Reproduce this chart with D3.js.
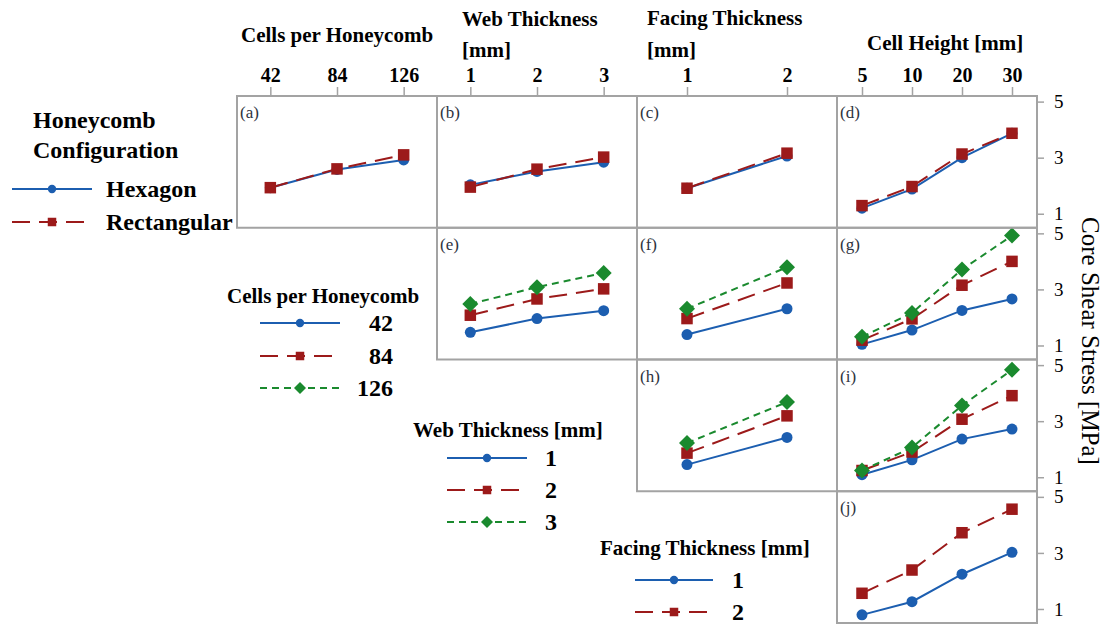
<!DOCTYPE html>
<html>
<head>
<meta charset="utf-8">
<script src="https://cdn.jsdelivr.net/npm/d3@7/dist/d3.min.js"></script>
<style>
  html, body { margin: 0; padding: 0; background: #fff; }
  svg { display: block; }
</style>
</head>
<body>
<svg id="chart" width="1108" height="624"></svg>
<script>
// ---------------- DATA ----------------
const cellsCats  = ["42", "84", "126"];
const webCats    = ["1", "2", "3"];
const facingCats = ["1", "2"];
const heightCats = ["5", "10", "20", "30"];
const yTickValues = [1, 3, 5];

const configNames = ["Hexagon", "Rectangular"];
const cellsNames  = ["42", "84", "126"];
const webNames    = ["1", "2", "3"];
const facingNames = ["1", "2"];

// Row 1: Honeycomb configuration (Hexagon, Rectangular)
const aHex  = [1.93, 2.58, 2.92];
const aRect = [1.93, 2.60, 3.10];
const bHex  = [2.03, 2.51, 2.84];
const bRect = [1.95, 2.59, 3.02];
const cHex  = [1.91, 3.06];
const cRect = [1.91, 3.16];
const dHex  = [1.20, 1.88, 3.00, 3.87];
const dRect = [1.29, 1.97, 3.13, 3.87];
// Row 2: Cells per honeycomb (42, 84, 126)
const e42  = [1.47, 1.96, 2.24];
const e84  = [2.08, 2.66, 3.02];
const e126 = [2.48, 3.08, 3.59];
const f42  = [1.39, 2.31];
const f84  = [1.96, 3.23];
const f126 = [2.31, 3.79];
const g42  = [1.04, 1.55, 2.25, 2.66];
const g84  = [1.19, 1.95, 3.15, 4.00];
const g126 = [1.31, 2.16, 3.71, 4.92];
// Row 3: Web thickness (1, 2, 3)
const hW1 = [1.45, 2.42];
const hW2 = [1.86, 3.19];
const hW3 = [2.22, 3.68];
const iW1 = [1.09, 1.62, 2.36, 2.72];
const iW2 = [1.24, 1.90, 3.07, 3.91];
const iW3 = [1.24, 2.06, 3.56, 4.83];
// Row 4: Facing thickness (1, 2)
const jF1 = [0.79, 1.26, 2.24, 3.02];
const jF2 = [1.56, 2.39, 3.72, 4.56];

// ---------------- LAYOUT / STYLE ----------------
const FONT = "'Liberation Serif', 'Times New Roman', serif";
const colX = [237, 437, 637, 837, 1037];
const rowY = [96, 227.75, 359.5, 491.25, 623];
const yDomain = [0.5, 5.2];
const frameColor = "#a3a3a3";

const styles = [
  { color: "#1c5eb0", dash: null,   marker: "circle"  },
  { color: "#9c1a1a", dash: "18,9", marker: "square"  },
  { color: "#1a8a2e", dash: "7,5",  marker: "diamond" }
];

const panels = [
  { label: "(a)", row: 0, col: 0, cats: cellsCats,  series: [aHex, aRect] },
  { label: "(b)", row: 0, col: 1, cats: webCats,    series: [bHex, bRect] },
  { label: "(c)", row: 0, col: 2, cats: facingCats, series: [cHex, cRect] },
  { label: "(d)", row: 0, col: 3, cats: heightCats, series: [dHex, dRect] },
  { label: "(e)", row: 1, col: 1, cats: webCats,    series: [e42, e84, e126] },
  { label: "(f)", row: 1, col: 2, cats: facingCats, series: [f42, f84, f126] },
  { label: "(g)", row: 1, col: 3, cats: heightCats, series: [g42, g84, g126] },
  { label: "(h)", row: 2, col: 2, cats: facingCats, series: [hW1, hW2, hW3] },
  { label: "(i)", row: 2, col: 3, cats: heightCats, series: [iW1, iW2, iW3] },
  { label: "(j)", row: 3, col: 3, cats: heightCats, series: [jF1, jF2] }
];

const svg = d3.select("#chart");

function xScale(col, cats) {
  return d3.scalePoint().domain(cats).range([colX[col], colX[col + 1]]).padding(0.5);
}
function yScale(row) {
  return d3.scaleLinear().domain(yDomain).range([rowY[row + 1], rowY[row]]);
}

function drawMarker(g, type, x, y, color, big) {
  if (type === "circle") {
    g.append("circle").attr("cx", x).attr("cy", y).attr("r", big ? 5.5 : 4.2).attr("fill", color);
  } else if (type === "square") {
    const s = big ? 11.5 : 8.5;
    g.append("rect").attr("x", x - s / 2).attr("y", y - s / 2).attr("width", s).attr("height", s).attr("fill", color);
  } else {
    const h = big ? 8 : 6;
    g.append("path")
      .attr("d", `M${x},${y - h}L${x + h},${y}L${x},${y + h}L${x - h},${y}Z`)
      .attr("fill", color);
  }
}

// ---------------- PANELS ----------------
panels.forEach(p => {
  const x = xScale(p.col, p.cats);
  const y = yScale(p.row);
  const g = svg.append("g");
  const line = d3.line().x((d, i) => x(p.cats[i])).y(d => y(d));
  p.series.forEach((vals, si) => {
    const st = styles[si];
    g.append("path")
      .attr("d", line(vals))
      .attr("fill", "none")
      .attr("stroke", st.color)
      .attr("stroke-width", 2)
      .attr("stroke-dasharray", st.dash);
    vals.forEach((v, i) => drawMarker(g, st.marker, x(p.cats[i]), y(v), st.color, true));
  });
  g.append("rect")
    .attr("x", colX[p.col]).attr("y", rowY[p.row])
    .attr("width", colX[p.col + 1] - colX[p.col])
    .attr("height", rowY[p.row + 1] - rowY[p.row])
    .attr("fill", "none").attr("stroke", frameColor).attr("stroke-width", 2);
  g.append("text")
    .attr("x", colX[p.col] + 3).attr("y", rowY[p.row] + 22)
    .attr("font-family", FONT).attr("font-size", 17).attr("fill", "#2e3340")
    .text(p.label);
});

// ---------------- TOP AXES ----------------
panels.filter(p => p.row === 0).forEach(p => {
  const x = xScale(p.col, p.cats);
  const ax = svg.append("g").attr("transform", `translate(0,${rowY[0]})`)
    .call(d3.axisTop(x).tickSize(9).tickPadding(5));
  ax.select(".domain").remove();
  ax.selectAll(".tick line").attr("stroke", frameColor).attr("stroke-width", 1.5);
  ax.selectAll(".tick text").attr("font-family", FONT).attr("font-size", 20)
    .attr("font-weight", "bold").attr("fill", "#000");
});

// ---------------- RIGHT AXES ----------------
for (let r = 0; r < 4; r++) {
  const y = yScale(r);
  const ax = svg.append("g").attr("transform", `translate(${colX[4]},0)`)
    .call(d3.axisRight(y).tickValues(yTickValues).tickSize(7).tickPadding(10).tickFormat(d3.format("d")));
  ax.select(".domain").remove();
  ax.selectAll(".tick line").attr("stroke", frameColor).attr("stroke-width", 1.5);
  ax.selectAll(".tick text").attr("font-family", FONT).attr("font-size", 19).attr("fill", "#000");
}

// ---------------- HEADERS ----------------
function txt(x, y, s, size, weight, anchor) {
  return svg.append("text").attr("x", x).attr("y", y)
    .attr("font-family", FONT).attr("font-size", size)
    .attr("font-weight", weight || "normal").attr("fill", "#000")
    .attr("text-anchor", anchor || "start").text(s);
}
txt(241, 42, "Cells per Honeycomb", 21, "bold");
txt(462, 26, "Web Thickness", 21, "bold");
txt(462, 57, "[mm]", 21, "bold");
txt(647, 25, "Facing Thickness", 21, "bold");
txt(647, 57, "[mm]", 21, "bold");
txt(867, 50, "Cell Height [mm]", 21, "bold");

svg.append("text")
  .attr("transform", "translate(1082,341) rotate(90)")
  .attr("text-anchor", "middle")
  .attr("font-family", FONT).attr("font-size", 25).attr("fill", "#000")
  .text("Core Shear Stress [MPa]");

// ---------------- LEGENDS ----------------
function legend(opts) {
  const g = svg.append("g");
  opts.titles.forEach((t, i) =>
    txt(opts.tx, opts.ty[i], t, opts.tsize, "bold"));
  opts.names.forEach((n, i) => {
    const st = styles[i];
    const yy = opts.iy[i];
    g.append("line").attr("x1", opts.lx0).attr("x2", opts.lx1)
      .attr("y1", yy).attr("y2", yy)
      .attr("stroke", st.color).attr("stroke-width", 2)
      .attr("stroke-dasharray", st.dash);
    drawMarker(g, st.marker, (opts.lx0 + opts.lx1) / 2, yy, st.color, false);
    txt(opts.textX, yy + 8, n, 24, "bold", opts.anchor);
  });
}
legend({ titles: ["Honeycomb", "Configuration"], tx: 33, ty: [128, 158], tsize: 24,
  names: configNames, iy: [189, 222], lx0: 12, lx1: 92, textX: 106, anchor: "start" });
legend({ titles: ["Cells per Honeycomb"], tx: 227, ty: [303], tsize: 21,
  names: cellsNames, iy: [323, 356, 388], lx0: 260, lx1: 340, textX: 393, anchor: "end" });
legend({ titles: ["Web Thickness [mm]"], tx: 413, ty: [437], tsize: 21,
  names: webNames, iy: [458, 490, 522], lx0: 447, lx1: 527, textX: 545, anchor: "start" });
legend({ titles: ["Facing Thickness [mm]"], tx: 600, ty: [555], tsize: 21,
  names: facingNames, iy: [580, 612], lx0: 635, lx1: 713, textX: 732, anchor: "start" });
</script>
</body>
</html>
